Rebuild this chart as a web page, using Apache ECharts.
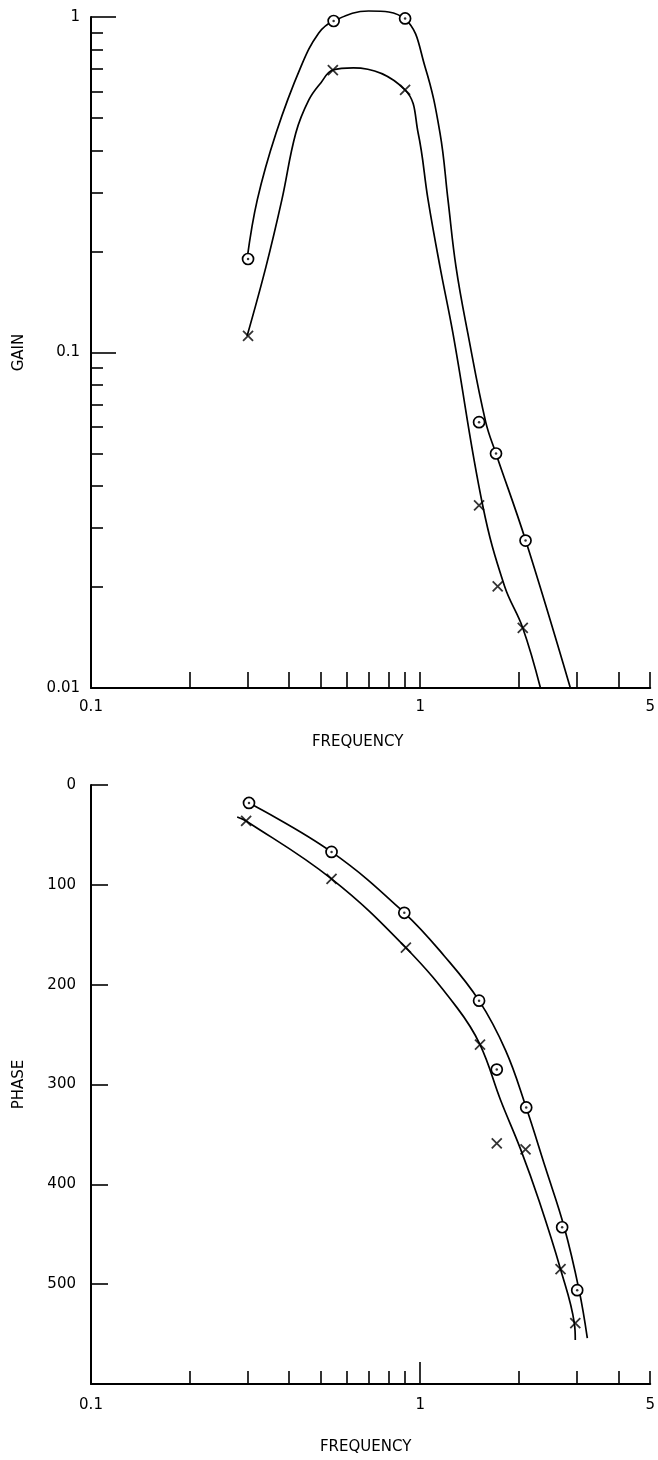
<!DOCTYPE html>
<html><head><meta charset="utf-8">
<script src="https://cdn.jsdelivr.net/npm/echarts@6/dist/echarts.min.js"></script>
<style>html,body{margin:0;padding:0;background:#fff}#c{width:658px;height:1460px}</style>
</head><body><div id="c"></div>
<script>
// ---- Gain chart data (frequency, gain) ----
const gainCircleFreq = [0.30, 0.546, 0.90, 1.51, 1.70, 2.09];
const gainCircleVal  = [0.190, 0.973, 0.99, 0.062, 0.050, 0.0275];
const gainCrossFreq  = [0.30, 0.543, 0.90, 1.51, 1.72, 2.05];
const gainCrossVal   = [0.112, 0.695, 0.606, 0.035, 0.0201, 0.0151];
// fitted curves
const gainUpperFreq = [0.298, 0.320, 0.365, 0.434, 0.492, 0.546, 0.697, 0.90, 1.035, 1.149, 1.215, 1.285, 1.396, 1.582, 1.697, 2.09, 2.86];
const gainUpperVal  = [0.190, 0.285, 0.451, 0.710, 0.896, 0.973, 1.042, 0.986, 0.710, 0.451, 0.285, 0.180, 0.114, 0.062, 0.0502, 0.0276, 0.01];
const gainLowerFreq = [0.298, 0.340, 0.380, 0.419, 0.459, 0.499, 0.543, 0.627, 0.90, 0.986, 1.057, 1.149, 1.258, 1.549, 1.805, 2.05, 2.32];
const gainLowerVal  = [0.112, 0.180, 0.285, 0.451, 0.566, 0.636, 0.695, 0.705, 0.606, 0.451, 0.285, 0.180, 0.114, 0.035, 0.0201, 0.0151, 0.01];

// ---- Phase chart data (frequency, phase) ----
const phaseCircleFreq = [0.302, 0.538, 0.895, 1.51, 1.709, 2.10, 2.70, 3.0];
const phaseCircleVal  = [18, 67, 128, 216, 285, 323, 443, 506];
const phaseCrossFreq  = [0.296, 0.538, 0.905, 1.52, 1.709, 2.09, 2.67, 2.96];
const phaseCrossVal   = [36, 94, 163, 260, 359, 365, 485, 539];
const phaseUpperFreq = [0.302, 0.538, 0.895, 1.182, 1.51, 1.819, 2.09, 2.40, 2.74, 3.04, 3.22];
const phaseUpperVal  = [18, 67, 128, 171, 216, 266, 321, 383, 443, 506, 554];
const phaseLowerFreq = [0.278, 0.296, 0.538, 0.905, 1.294, 1.52, 1.757, 2.02, 2.30, 2.67, 2.94, 2.96];
const phaseLowerVal  = [32, 36, 94, 163, 223, 260, 316, 365, 417, 485, 539, 556];

// ---- Tick values and labels ----
const freqLabels = [0.1, 1, 5];
const freqTicksTop = [0.2, 0.3, 0.4, 0.5, 0.6, 0.7, 0.8, 0.9, 1, 2, 3, 4, 5];
const freqTicksBottomMinor = [0.2, 0.3, 0.4, 0.5, 0.6, 0.7, 0.8, 0.9, 2, 3, 4, 5];
const freqTicksBottomMajor = [1];
const gainLabels = [0.01, 0.1, 1];
const gainTicksMinor = [0.02, 0.03, 0.04, 0.05, 0.06, 0.07, 0.08, 0.09, 0.2, 0.3, 0.4, 0.5, 0.6, 0.7, 0.8, 0.9];
const gainTicksMajor = [0.1, 1];
const phaseLabels = [0, 100, 200, 300, 400, 500];

const zip = (a, b) => a.map((v, i) => [v, b[i]]);
const FONT = 'DejaVu Sans';
const FS = 15;
const fmt = v => String(+(+v).toPrecision(3));
const axisLineStyle = { color: '#000', width: 2 };
const tickStyle = { color: '#000', width: 1.6 };

const chart = echarts.init(document.getElementById('c'), null, { renderer: 'canvas' });

const lineSeries = (x, y, xi, yi) => ({
  type: 'line', xAxisIndex: xi, yAxisIndex: yi, data: zip(x, y),
  smooth: 0.4, symbol: 'none', clip: false, z: 2,
  lineStyle: { color: '#000', width: 1.7 }
});
const circleSeries = (x, y, xi, yi) => ([
  { type: 'scatter', xAxisIndex: xi, yAxisIndex: yi, data: zip(x, y), symbol: 'circle', symbolSize: 11,
    itemStyle: { color: '#fff', borderColor: '#000', borderWidth: 1.7, opacity: 1 }, z: 3, clip: false },
  { type: 'scatter', xAxisIndex: xi, yAxisIndex: yi, data: zip(x, y), symbol: 'circle', symbolSize: 2.5,
    itemStyle: { color: '#000' }, z: 4, clip: false }
]);
const crossSeries = (x, y, xi, yi) => ({
  type: 'scatter', xAxisIndex: xi, yAxisIndex: yi, data: zip(x, y),
  symbol: 'path://M0,0L10,10M10,0L0,10', symbolSize: 10,
  itemStyle: { color: 'none', borderColor: '#000', borderWidth: 1.8 }, z: 3, clip: false
});

const labelStyle = { fontFamily: FONT, fontSize: FS, color: '#000' };

const option = {
  animation: false,
  backgroundColor: '#fff',
  textStyle: { fontFamily: FONT, color: '#000' },
  grid: [
    { left: 91, top: 17, width: 562, height: 671 },
    { left: 91, top: 785, width: 562, height: 599 }
  ],
  xAxis: [
    { gridIndex: 0, type: 'log', logBase: 10, min: 0.1, max: 5,
      axisLine: { onZero: false, lineStyle: axisLineStyle },
      axisTick: { inside: true, length: 16, customValues: freqTicksTop, lineStyle: tickStyle },
      axisLabel: Object.assign({ customValues: freqLabels, margin: 12, formatter: fmt }, labelStyle),
      splitLine: { show: false }, minorTick: { show: false },
      name: 'FREQUENCY', nameLocation: 'middle', nameGap: 47,
      nameTextStyle: Object.assign({ padding: [0, 26, 0, 0] }, labelStyle) },
    { gridIndex: 1, type: 'log', logBase: 10, min: 0.1, max: 5,
      axisLine: { onZero: false, lineStyle: axisLineStyle },
      axisTick: { inside: true, length: 13, customValues: freqTicksBottomMinor, lineStyle: tickStyle },
      axisLabel: Object.assign({ customValues: freqLabels, margin: 14, formatter: fmt }, labelStyle),
      splitLine: { show: false }, minorTick: { show: false },
      name: 'FREQUENCY', nameLocation: 'middle', nameGap: 56,
      nameTextStyle: Object.assign({ padding: [0, 10, 0, 0] }, labelStyle) },
    { gridIndex: 1, type: 'log', logBase: 10, min: 0.1, max: 5, position: 'bottom', offset: 0,
      axisLine: { show: false, onZero: false },
      axisTick: { inside: true, length: 22, customValues: freqTicksBottomMajor, lineStyle: tickStyle },
      axisLabel: { show: false }, splitLine: { show: false } }
  ],
  yAxis: [
    { gridIndex: 0, type: 'log', logBase: 10, min: 0.01, max: 1,
      axisLine: { onZero: false, lineStyle: axisLineStyle },
      axisTick: { inside: true, length: 12, customValues: gainTicksMinor, lineStyle: tickStyle },
      axisLabel: Object.assign({ customValues: gainLabels, margin: 11, formatter: fmt }, labelStyle),
      splitLine: { show: false }, minorTick: { show: false },
      name: 'GAIN', nameLocation: 'middle', nameGap: 64, nameTextStyle: labelStyle },
    { gridIndex: 0, type: 'log', logBase: 10, min: 0.01, max: 1, position: 'left', offset: 0,
      axisLine: { show: false, onZero: false },
      axisTick: { inside: true, length: 25, customValues: gainTicksMajor, lineStyle: tickStyle },
      axisLabel: { show: false }, splitLine: { show: false } },
    { gridIndex: 1, type: 'value', inverse: true, min: 0, max: 600, interval: 100,
      axisLine: { onZero: false, lineStyle: axisLineStyle },
      axisTick: { inside: true, length: 17, customValues: phaseLabels, lineStyle: tickStyle },
      axisLabel: Object.assign({ customValues: phaseLabels, margin: 15 }, labelStyle),
      splitLine: { show: false },
      name: 'PHASE', nameLocation: 'middle', nameGap: 64, nameTextStyle: labelStyle }
  ],
  series: [
    lineSeries(gainUpperFreq, gainUpperVal, 0, 0),
    lineSeries(gainLowerFreq, gainLowerVal, 0, 0),
    ...circleSeries(gainCircleFreq, gainCircleVal, 0, 0),
    crossSeries(gainCrossFreq, gainCrossVal, 0, 0),
    lineSeries(phaseUpperFreq, phaseUpperVal, 1, 2),
    lineSeries(phaseLowerFreq, phaseLowerVal, 1, 2),
    ...circleSeries(phaseCircleFreq, phaseCircleVal, 1, 2),
    crossSeries(phaseCrossFreq, phaseCrossVal, 1, 2)
  ]
};
chart.setOption(option);
</script>
</body></html>
